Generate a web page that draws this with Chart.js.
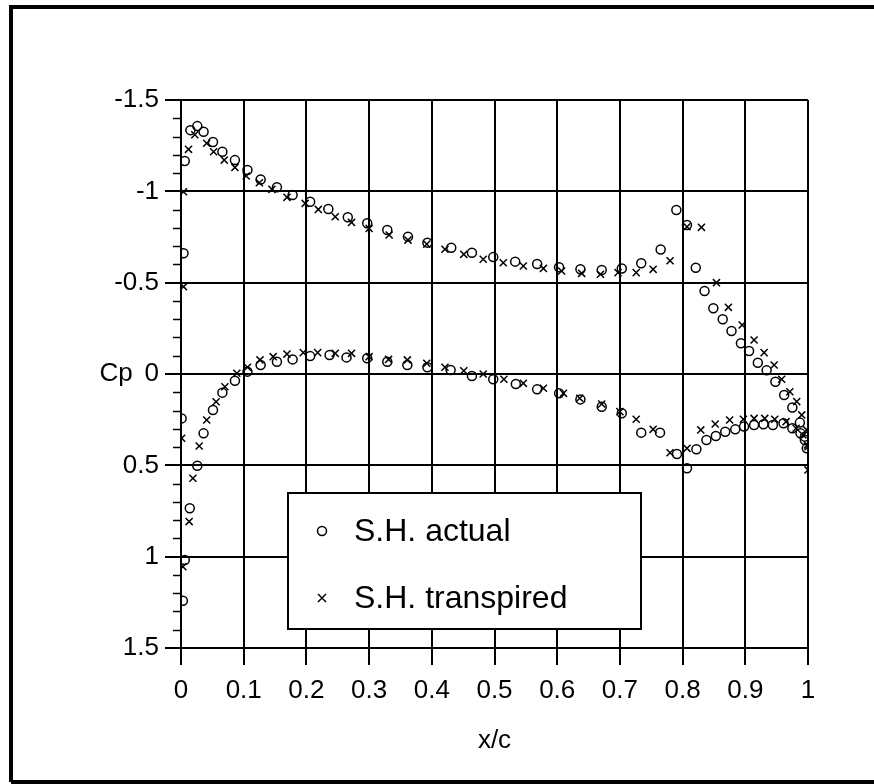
<!DOCTYPE html>
<html>
<head>
<meta charset="utf-8">
<title>Cp distribution</title>
<script src="https://cdn.jsdelivr.net/npm/chart.js@4/dist/chart.umd.min.js"></script>
<style>
    html, body { margin: 0; padding: 0; background: #fff; }
    #cpChart { display: block; }
</style>
</head>
<body>
<canvas id="cpChart" width="874" height="784"></canvas>
<script>
// S.H. actual (circles): x/c and Cp, upper surface then lower surface
const actualX = [
    0.004, 0.006, 0.015, 0.026, 0.036, 0.051, 0.066, 0.086, 0.106, 0.127,
    0.153, 0.178, 0.206, 0.235, 0.266, 0.297, 0.329, 0.362, 0.393, 0.431,
    0.464, 0.498, 0.533, 0.568, 0.603, 0.637, 0.671, 0.703, 0.734, 0.765,
    0.790, 0.807, 0.821, 0.835, 0.849, 0.864, 0.878, 0.893, 0.906, 0.920,
    0.934, 0.948, 0.962, 0.975, 0.987, 0.995,
    0.003, 0.006, 0.014, 0.026, 0.036, 0.001, 0.051, 0.066, 0.086, 0.106,
    0.127, 0.153, 0.178, 0.206, 0.237, 0.264, 0.297, 0.329, 0.361, 0.393,
    0.430, 0.464, 0.498, 0.534, 0.568, 0.603, 0.637, 0.671, 0.703, 0.734,
    0.764, 0.791, 0.807, 0.822, 0.838, 0.853, 0.868, 0.884, 0.898, 0.914,
    0.929, 0.944, 0.961, 0.975, 0.988, 0.995, 0.998
];
const actualCp = [
    -0.661, -1.166, -1.335, -1.357, -1.326, -1.270, -1.217, -1.171, -1.117, -1.065,
    -1.022, -0.980, -0.943, -0.903, -0.858, -0.825, -0.788, -0.752, -0.719, -0.691,
    -0.664, -0.640, -0.615, -0.602, -0.584, -0.573, -0.569, -0.578, -0.606, -0.682,
    -0.898, -0.816, -0.582, -0.454, -0.360, -0.300, -0.235, -0.168, -0.126, -0.062,
    -0.020, 0.042, 0.115, 0.183, 0.266, 0.343,
    1.241, 1.018, 0.735, 0.502, 0.325, 0.243, 0.197, 0.102, 0.037, -0.013,
    -0.049, -0.067, -0.080, -0.098, -0.104, -0.091, -0.086, -0.067, -0.049, -0.037,
    -0.022, 0.011, 0.029, 0.055, 0.084, 0.106, 0.139, 0.179, 0.215, 0.321,
    0.321, 0.438, 0.516, 0.412, 0.361, 0.339, 0.316, 0.303, 0.288, 0.279,
    0.275, 0.279, 0.270, 0.297, 0.325, 0.361, 0.407
];

// S.H. transpired (crosses)
const transpiredX = [
    0.004, 0.004, 0.012, 0.022, 0.041, 0.052, 0.069, 0.086, 0.104, 0.125,
    0.145, 0.169, 0.198, 0.219, 0.246, 0.272, 0.300, 0.332, 0.362, 0.392,
    0.421, 0.451, 0.482, 0.514, 0.546, 0.578, 0.607, 0.639, 0.669, 0.697,
    0.726, 0.753, 0.780, 0.807, 0.830, 0.854, 0.873, 0.895, 0.914, 0.930,
    0.946, 0.958, 0.971, 0.982, 0.990, 0.998, 1.000, 1.000,
    0.003, 0.013, 0.019, 0.029, 0.001, 0.041, 0.056, 0.070, 0.089, 0.106,
    0.126, 0.147, 0.169, 0.195, 0.218, 0.246, 0.272, 0.300, 0.331, 0.361,
    0.392, 0.421, 0.451, 0.482, 0.515, 0.546, 0.578, 0.610, 0.636, 0.671,
    0.700, 0.726, 0.753, 0.780, 0.807, 0.829, 0.852, 0.875, 0.897, 0.914,
    0.931, 0.947, 0.965, 0.981, 0.992, 0.999
];
const transpiredCp = [
    -0.478, -0.998, -1.230, -1.310, -1.263, -1.217, -1.171, -1.131, -1.084, -1.047,
    -1.011, -0.967, -0.934, -0.901, -0.861, -0.830, -0.797, -0.761, -0.733, -0.711,
    -0.683, -0.655, -0.628, -0.609, -0.591, -0.578, -0.564, -0.551, -0.546, -0.555,
    -0.555, -0.573, -0.620, -0.806, -0.803, -0.500, -0.365, -0.268, -0.186, -0.117,
    -0.049, 0.029, 0.097, 0.151, 0.224, 0.306, 0.398, 0.525,
    1.055, 0.808, 0.571, 0.394, 0.352, 0.252, 0.152, 0.070, -0.004, -0.037,
    -0.077, -0.095, -0.109, -0.117, -0.117, -0.113, -0.113, -0.095, -0.080, -0.077,
    -0.059, -0.037, -0.018, 0.000, 0.029, 0.051, 0.078, 0.106, 0.133, 0.164,
    0.206, 0.248, 0.303, 0.431, 0.407, 0.306, 0.274, 0.252, 0.248, 0.243,
    0.243, 0.248, 0.261, 0.297, 0.334, 0.389
];

const seriesLabels = ['S.H. actual', 'S.H. transpired'];
const xTicks = [0, 0.1, 0.2, 0.3, 0.4, 0.5, 0.6, 0.7, 0.8, 0.9, 1];
const yTicks = [-1.5, -1, -0.5, 0, 0.5, 1, 1.5];

const FONT = '"Liberation Sans", Arial, sans-serif';

function toPoints(xs, ys) {
    return xs.map((x, i) => ({ x: x, y: ys[i] }));
}

// Frame, minor ticks, horizontal "Cp" label and the boxed legend
const decorPlugin = {
    id: 'decor',
    afterDraw(chart) {
        const ctx = chart.ctx;
        const area = chart.chartArea;
        const yScale = chart.scales.y;

        ctx.save();
        ctx.strokeStyle = '#000';

        // minor ticks on the Cp axis every 0.1
        ctx.lineWidth = 1.5;
        for (let i = -15; i <= 15; i++) {
            if (i % 5 === 0) continue;
            const py = Math.round(yScale.getPixelForValue(i / 10)) + 0.5;
            ctx.beginPath();
            ctx.moveTo(area.left - 8, py);
            ctx.lineTo(area.left, py);
            ctx.stroke();
        }

        // y title, horizontal
        ctx.fillStyle = '#000';
        ctx.font = '26px ' + FONT;
        ctx.textAlign = 'center';
        ctx.textBaseline = 'middle';
        ctx.fillText('Cp', 116, yScale.getPixelForValue(0));

        // legend box
        const lx = 288, ly = 493, lw = 353, lh = 136;
        ctx.fillStyle = '#fff';
        ctx.fillRect(lx, ly, lw, lh);
        ctx.lineWidth = 2;
        ctx.strokeRect(lx, ly, lw, lh);

        const rows = [ly + 38, ly + 105];
        chart.data.datasets.forEach((ds, i) => {
            const y = rows[i];
            ctx.lineWidth = 1.5;
            ctx.strokeStyle = '#000';
            ctx.beginPath();
            if (ds.pointStyle === 'circle') {
                ctx.arc(322, y, 4.5, 0, Math.PI * 2);
            } else {
                ctx.moveTo(318, y - 4); ctx.lineTo(326, y + 4);
                ctx.moveTo(326, y - 4); ctx.lineTo(318, y + 4);
            }
            ctx.stroke();
            ctx.fillStyle = '#000';
            ctx.font = '32px ' + FONT;
            ctx.textAlign = 'left';
            ctx.fillText(ds.label, 354, y + 1);
        });

        // outer frame of the figure
        ctx.lineWidth = 4;
        ctx.beginPath();
        ctx.moveTo(11, 782);
        ctx.lineTo(11, 7);
        ctx.lineTo(874, 7);
        ctx.moveTo(11, 782);
        ctx.lineTo(874, 782);
        ctx.stroke();
        ctx.restore();
    }
};

document.addEventListener('DOMContentLoaded', function () {
    const canvas = document.getElementById('cpChart');
    if (!canvas) return;

    new Chart(canvas, {
        type: 'scatter',
        data: {
            datasets: [{
                label: seriesLabels[0],
                data: toPoints(actualX, actualCp),
                pointStyle: 'circle',
                pointRadius: 4.5,
                borderWidth: 1.5,
                borderColor: '#000',
                backgroundColor: 'rgba(0,0,0,0)'
            }, {
                label: seriesLabels[1],
                data: toPoints(transpiredX, transpiredCp),
                pointStyle: 'crossRot',
                pointRadius: 5,
                borderWidth: 1.5,
                borderColor: '#000',
                backgroundColor: 'rgba(0,0,0,0)'
            }]
        },
        options: {
            responsive: false,
            devicePixelRatio: 1,
            animation: false,
            layout: {
                padding: { left: 0, right: 66, top: 100, bottom: 0 }
            },
            plugins: {
                legend: { display: false },
                tooltip: { enabled: false }
            },
            scales: {
                x: {
                    type: 'linear',
                    min: 0,
                    max: 1,
                    afterFit: function (scale) { scale.height = 136; },
                    afterBuildTicks: function (scale) {
                        scale.ticks = xTicks.map(v => ({ value: v }));
                    },
                    ticks: {
                        color: '#000',
                        font: { family: FONT, size: 26 },
                        padding: 10,
                        maxRotation: 0,
                        callback: function (value) { return String(value); }
                    },
                    grid: {
                        color: '#000',
                        lineWidth: 2,
                        tickLength: 17
                    },
                    border: { color: '#000', width: 2 },
                    title: {
                        display: true,
                        text: 'x/c',
                        color: '#000',
                        font: { family: FONT, size: 26 },
                        padding: { top: 0, bottom: 28 }
                    }
                },
                y: {
                    type: 'linear',
                    min: -1.5,
                    max: 1.5,
                    reverse: true,
                    afterFit: function (scale) { scale.width = 181; },
                    afterBuildTicks: function (scale) {
                        scale.ticks = yTicks.map(v => ({ value: v }));
                    },
                    ticks: {
                        color: '#000',
                        font: { family: FONT, size: 26 },
                        padding: 6,
                        callback: function (value) { return String(value); }
                    },
                    grid: {
                        color: '#000',
                        lineWidth: 2,
                        tickLength: 16
                    },
                    border: { color: '#000', width: 2 }
                }
            }
        },
        plugins: [decorPlugin]
    });
});
</script>
</body>
</html>
